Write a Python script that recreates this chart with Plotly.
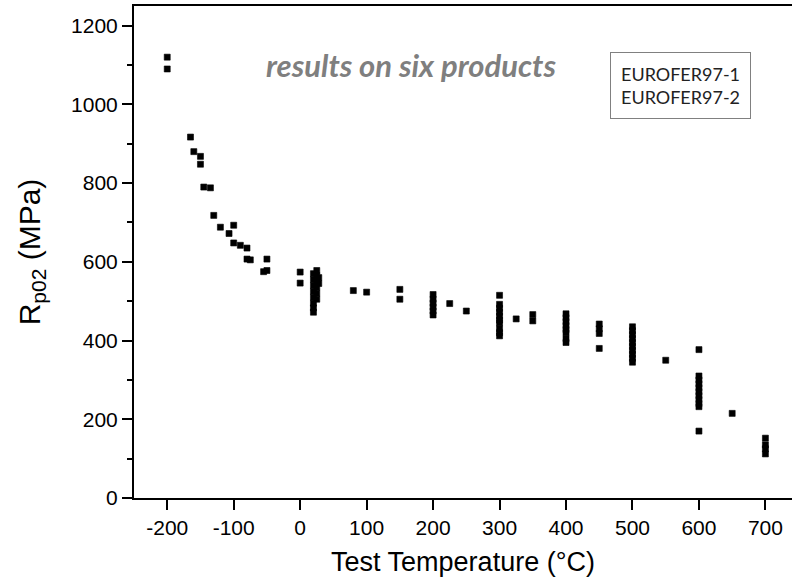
import plotly.graph_objects as go

# Test temperature (°C) and Rp0.2 (MPa) values
temp_c = [
    -200, -200,
    -165, -160, -150, -150, -145, -135, -130, -120, -107, -100, -100, -90, -80,
    -80, -75, -50, -55, -50,
    0, 0,
    20, 20, 20, 20, 20, 25, 25, 25, 25, 25, 25, 28, 28,
    20, 20, 20,
    80, 100, 150, 150,
    200, 200, 200, 200, 200, 200,
    225, 250,
    300, 300, 300, 300, 300, 300, 300, 300, 300, 300,
    325, 350, 350,
    400, 400, 400, 400, 400, 400, 400, 400,
    450, 450, 450, 450,
    500, 500, 500, 500, 500, 500, 500, 500, 500, 500,
    550,
    600, 600, 600, 600, 600, 600, 600, 600, 600, 600, 600,
    650,
    700, 700, 700, 700,
]
rp02_mpa = [
    1120, 1090,
    917, 880, 868, 848, 790, 788, 718, 688, 672, 693, 648, 642, 635,
    607, 605, 607, 575, 578,
    574, 546,
    570, 555, 540, 525, 510, 578, 565, 550, 535, 520, 505, 560, 545,
    495, 483, 472,
    527, 523, 530, 505,
    517, 505, 495, 485, 475, 465,
    494, 475,
    515, 492, 482, 472, 462, 452, 445, 430, 420, 412,
    455, 466, 450,
    468, 458, 448, 438, 428, 420, 405, 395,
    442, 430, 418, 380,
    435, 425, 415, 405, 395, 385, 375, 365, 355, 345,
    350,
    377, 310, 300, 290, 280, 270, 260, 250, 240, 232, 170,
    215,
    152, 135, 125, 112,
]

legend_names = ["EUROFER97-1", "EUROFER97-2"]
x_ticks = [-200, -100, 0, 100, 200, 300, 400, 500, 600, 700]
y_ticks = [0, 200, 400, 600, 800, 1000, 1200]

axis_font = "Liberation Sans, Arial, sans-serif"
note_font = "Lato, Open Sans, sans-serif"

W, H = 792, 585
ml, mr, mt, mb = 134, 0, 6, 87
pw, ph = W - ml - mr, H - mt - mb


def px_to_paper(px, py):
    return (px - ml) / pw, 1 - (py - mt) / ph


fig = go.Figure()
fig.add_trace(go.Scatter(
    x=temp_c, y=rp02_mpa, mode="markers",
    marker=dict(symbol="square", size=6, color="black",
                line=dict(width=0.6, color="black")),
    showlegend=False, name="EUROFER97",
))

nx, ny = px_to_paper(411, 65)
fig.add_annotation(
    x=nx, y=ny, xref="paper", yref="paper",
    text="<b><i>results on six products</i></b>", showarrow=False,
    font=dict(family=note_font, size=31, color="#7f7f7f"),
    xanchor="center", yanchor="middle",
)

lx, ly = px_to_paper(680, 85)
fig.add_annotation(
    x=lx, y=ly, xref="paper", yref="paper",
    text="<br>".join(legend_names), showarrow=False,
    font=dict(family=note_font, size=18, color="#222222"),
    bordercolor="#808080", borderwidth=1, borderpad=10,
    bgcolor="white", align="left",
    xanchor="center", yanchor="middle",
)

fig.update_layout(
    width=W, height=H,
    margin=dict(l=ml, r=mr, t=mt, b=mb, pad=0),
    plot_bgcolor="white", paper_bgcolor="white",
    font=dict(family=axis_font, color="black"),
)

fig.update_xaxes(
    range=[-250, 740], tickvals=x_ticks, ticktext=[str(v) for v in x_ticks],
    showgrid=False, zeroline=False,
    showline=True, linecolor="black", linewidth=2, mirror=True,
    ticks="outside", ticklen=10, tickwidth=2, tickcolor="black",
    tickfont=dict(size=21, family=axis_font),
    title=dict(text="Test Temperature (°C)", font=dict(size=27, family=axis_font), standoff=14),
)
fig.update_yaxes(
    range=[0, 1250], tickvals=y_ticks, ticktext=[str(v) for v in y_ticks],
    showgrid=False, zeroline=False,
    showline=True, linecolor="black", linewidth=2, mirror=False,
    ticks="outside", ticklen=10, tickwidth=2, tickcolor="black",
    minor=dict(dtick=100, ticks="outside", ticklen=5, tickwidth=2, tickcolor="black", showgrid=False),
    tickfont=dict(size=21, family=axis_font),
    title=dict(text="R<sub>p02</sub> (MPa)", font=dict(size=30, family=axis_font), standoff=22),
)

fig.write_html("out.html")
